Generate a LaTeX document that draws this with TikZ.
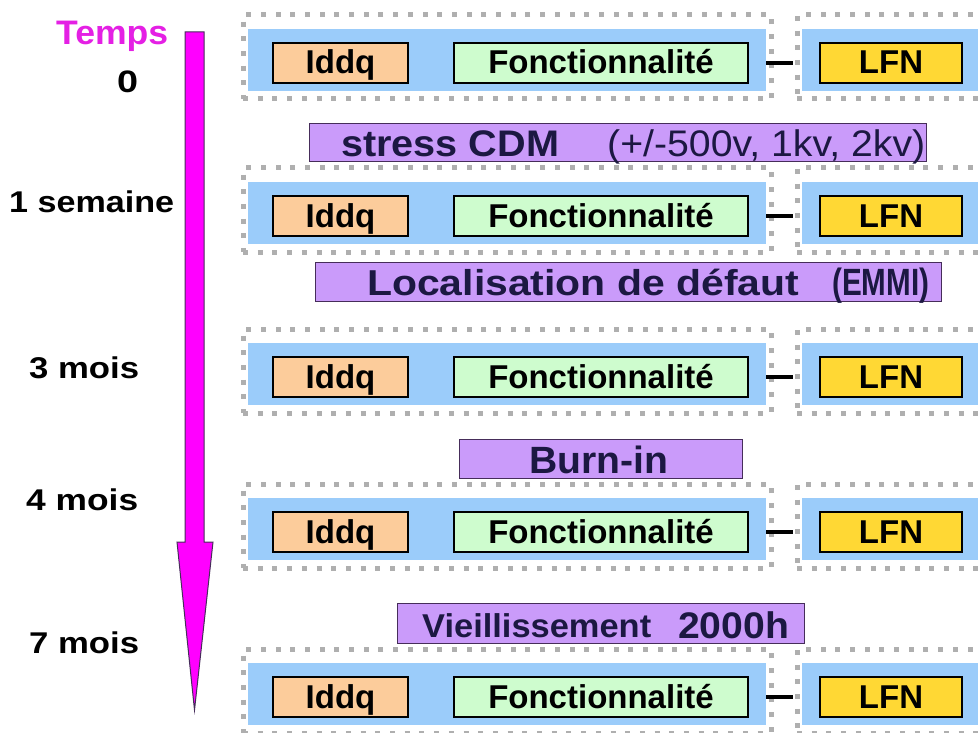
\documentclass[tikz,border=0pt]{standalone}
\usepackage{fontspec}
\setmainfont{Liberation Sans}
\usepackage{graphicx}
\definecolor{bandblue}{RGB}{155,204,250}
\definecolor{iddqc}{RGB}{252,204,155}
\definecolor{fonctc}{RGB}{206,252,206}
\definecolor{lfnc}{RGB}{255,216,52}
\definecolor{purp}{RGB}{202,155,250}
\definecolor{purpline}{RGB}{70,45,90}
\definecolor{navy}{RGB}{28,24,66}
\definecolor{dotgray}{RGB}{175,175,175}
\definecolor{tempsc}{RGB}{228,32,228}
\definecolor{arrowc}{RGB}{255,0,255}
\newcommand\fs[1]{\fontsize{#1}{#1}\selectfont}
\newcommand\fitw[2]{\resizebox{#1}{\height}{#2}}
\tikzset{
  frameL/.style={draw=dotgray, line width=5pt, dash pattern=on 5pt off 9.7pt, inner sep=0pt, minimum width=528pt, minimum height=84pt},
  frameR/.style={draw=dotgray, line width=5pt, dash pattern=on 5pt off 9.7pt, inner sep=0pt, minimum width=303pt, minimum height=84pt},
  bandbox/.style={fill=bandblue, inner sep=0pt, minimum height=62pt},
  labelbox/.style={draw=black, line width=1.2pt, inner sep=0pt, minimum height=40pt, font=\fs{33}\bfseries, text height=24pt, text depth=2pt},
  linkline/.style={draw=black, line width=3.5pt},
  purpbox/.style={fill=purp, draw=purpline, line width=1pt, inner sep=0pt},
  ptext/.style={anchor=base west, inner sep=0pt, text=navy},
  ttext/.style={anchor=base west, inner sep=0pt, text=black},
  timearrow/.style={fill=arrowc, draw=purpline, line width=1pt, line join=miter}
}
\begin{document}
\begin{tikzpicture}[x=1pt,y=-1pt]
\useasboundingbox (0,0) rectangle (978,733);
\clip (0,0) rectangle (978,733);

% time arrow
\draw[timearrow] (185,32) -- (204,32) -- (204,542) -- (213,542) -- (194.5,710) -- (177,542) -- (185,542) -- cycle;

% time labels
\node[ttext, text=tempsc] (temps) at (56,45) {\fitw{112pt}{\fs{34}\bfseries Temps}};
\node[ttext] (t0) at (117,93) {\fitw{21pt}{\fs{31}\bfseries 0}};
\node[ttext] (t1) at (9,212) {\fitw{165pt}{\fs{30}\bfseries 1 semaine}};
\node[ttext] (t3) at (29,378) {\fitw{110pt}{\fs{30}\bfseries 3 mois}};
\node[ttext] (t4) at (26,510) {\fitw{112pt}{\fs{30}\bfseries 4 mois}};
\node[ttext] (t7) at (29,653) {\fitw{110pt}{\fs{30}\bfseries 7 mois}};

% test rows
\foreach \r/\c in {1/63,2/216,3/377,4/532,5/697}{
  \node[frameL] (fl\r) at (507,\c-6) {};
  \node[frameR] (fr\r) at (948.5,\c-6) {};
  \node[bandbox, minimum width=518pt] (bl\r) at (507,\c-3) {};
  \node[bandbox, minimum width=298pt] (br\r) at (951,\c-3) {};
  \node[labelbox, fill=iddqc, minimum width=135pt] (i\r) at (340.5,\c) {Iddq};
  \node[labelbox, fill=fonctc, minimum width=294pt] (f\r) at (601,\c) {Fonctionnalité};
  \node[labelbox, fill=lfnc, minimum width=142pt] (l\r) at (891,\c) {LFN};
  \draw[linkline, shorten >=2pt] (bl\r.east |- f\r.east) -- (fr\r.west |- f\r.east);
}

% steps between tests
\node[purpbox, minimum width=617pt, minimum height=38pt] (p1) at (617.5,143) {};
\node[ptext] (p1a) at (341,157) {\fitw{218pt}{\fs{37}\bfseries stress CDM}};
\node[ptext] (p1b) at (607,157) {\fitw{318pt}{\fs{37}(+/-500v, 1kv, 2kv)}};

\node[purpbox, minimum width=626pt, minimum height=39pt] (p2) at (628,281.5) {};
\node[ptext] (p2a) at (367,295) {\fitw{432pt}{\fs{36}\bfseries Localisation de défaut}};
\node[ptext] (p2b) at (832,295) {\fitw{97pt}{\fs{38}\bfseries (EMMI)}};

\node[purpbox, minimum width=283pt, minimum height=39pt] (p3) at (600.5,458.5) {};
\node[ptext] (p3a) at (529,473) {\fitw{139pt}{\fs{38}\bfseries Burn-in}};

\node[purpbox, minimum width=407pt, minimum height=40pt] (p4) at (600.5,623) {};
\node[ptext] (p4a) at (422,637) {\fitw{229pt}{\fs{33}\bfseries Vieillissement}};
\node[ptext] (p4b) at (678,638) {\fitw{111pt}{\fs{37}\bfseries 2000h}};
\end{tikzpicture}
\end{document}
